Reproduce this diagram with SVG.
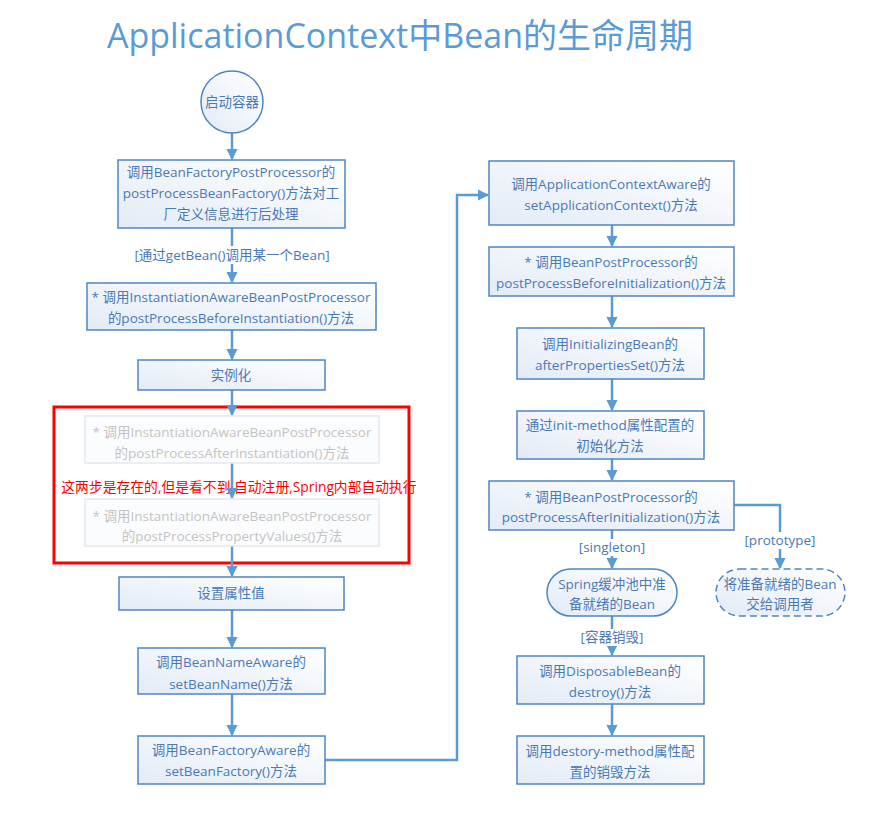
<svg xmlns="http://www.w3.org/2000/svg" width="891" height="817" viewBox="0 0 891 817">
<defs>
<linearGradient id="g" x1="1" y1="0" x2="0" y2="1">
<stop offset="0" stop-color="#ffffff"/>
<stop offset="1" stop-color="#e3ebf6"/>
</linearGradient>
<marker id="ar" viewBox="0 0 10 10" refX="9" refY="5" markerWidth="4.6" markerHeight="4.6" orient="auto" markerUnits="strokeWidth">
<path d="M0,0 L10,5 L0,10 z" fill="#5b9bd5"/>
</marker>
<style>
.t{font-family:"Open Sans","Noto Sans CJK SC",sans-serif;font-size:13.5px;fill:#4a7ab5;text-anchor:middle}
.f{fill:#c4c4c4}
.b{fill:url(#g);stroke:#4f86c0;stroke-width:1.5}
.fb{fill:#fbfcfd;stroke:#e4e8ee;stroke-width:1.5}
.c{fill:none;stroke:#5b9bd5;stroke-width:2.5;marker-end:url(#ar)}
.lab{font-family:"Open Sans","Noto Sans CJK SC",sans-serif;font-size:13.5px;fill:#4a7ab5;text-anchor:middle}
</style>
</defs>
<rect width="891" height="817" fill="#ffffff"/>
<text x="400" y="48" style="font-family:'Open Sans','Noto Sans CJK SC',sans-serif;font-size:34px;fill:#5b9bd5;text-anchor:middle">ApplicationContext中Bean的生命周期</text>

<rect x="54" y="407" width="355" height="156" fill="none" stroke="#ff0000" stroke-width="3"/>
<text x="239" y="492" style="font-family:'Open Sans','Noto Sans CJK SC',sans-serif;font-size:13.8px;fill:#ff0000;text-anchor:middle">这两步是存在的,但是看不到,自动注册,Spring内部自动执行</text>

<g id="connectors">
<path class="c" d="M232,133 V159"/>
<path class="c" d="M232,228 V282"/>
<path class="c" d="M232,330 V359"/>
<path class="c" d="M232,390 V415"/>
<path class="c" d="M232,463 V498"/>
<path class="c" d="M232,546 V576"/>
<path class="c" d="M232,610 V647"/>
<path class="c" d="M232,694 V735"/>
<path class="c" d="M325,760 H457 V195 H488"/>
<path class="c" d="M612,225 V246"/>
<path class="c" d="M612,296 V327"/>
<path class="c" d="M612,379 V410"/>
<path class="c" d="M612,459 V480"/>
<path class="c" d="M612,530 V568"/>
<path class="c" d="M734,505 H780 V568"/>
<path class="c" d="M612,616 V655"/>
<path class="c" d="M612,704 V735"/>
</g>

<g id="labels">
<rect x="128" y="246" width="208" height="18" fill="#ffffff"/>
<text class="lab" x="232" y="260">[通过getBean()调用某一个Bean]</text>
<rect x="578" y="539" width="68" height="17" fill="#ffffff"/>
<text class="lab" x="612" y="552">[singleton]</text>
<rect x="744" y="532" width="72" height="17" fill="#ffffff"/>
<text class="lab" x="780" y="545">[prototype]</text>
<rect x="574" y="629" width="76" height="17" fill="#ffffff"/>
<text class="lab" x="612" y="642">[容器销毁]</text>
</g>

<g id="start">
<circle cx="232" cy="102" r="31" fill="url(#g)" stroke="#4f86c0" stroke-width="1.5"/>
<text class="t" x="232" y="107">启动容器</text>
</g>
<g id="bfpp">
<rect class="b" x="118" y="160" width="227" height="68"/>
<text class="t" x="231" y="177">调用BeanFactoryPostProcessor的</text>
<text class="t" x="231" y="198">postProcessBeanFactory()方法对工</text>
<text class="t" x="231" y="219">厂定义信息进行后处理</text>
</g>
<g id="iabpp-before">
<rect class="b" x="87" y="283" width="289" height="47"/>
<text class="t" x="231" y="302">* 调用InstantiationAwareBeanPostProcessor</text>
<text class="t" x="231" y="323">的postProcessBeforeInstantiation()方法</text>
</g>
<g id="instantiate">
<rect class="b" x="138" y="360" width="187" height="30"/>
<text class="t" x="231" y="380">实例化</text>
</g>
<g id="iabpp-after">
<rect class="fb" x="85" y="416" width="294" height="47"/>
<text class="t f" x="232" y="437">* 调用InstantiationAwareBeanPostProcessor</text>
<text class="t f" x="232" y="458">的postProcessAfterInstantiation()方法</text>
</g>
<g id="iabpp-props">
<rect class="fb" x="85" y="499" width="294" height="47"/>
<text class="t f" x="232" y="521">* 调用InstantiationAwareBeanPostProcessor</text>
<text class="t f" x="232" y="541">的postProcessPropertyValues()方法</text>
</g>
<g id="setprops">
<rect class="b" x="119" y="577" width="225" height="33"/>
<text class="t" x="231" y="598">设置属性值</text>
</g>
<g id="beannameaware">
<rect class="b" x="138" y="648" width="187" height="46"/>
<text class="t" x="231" y="667">调用BeanNameAware的</text>
<text class="t" x="231" y="689">setBeanName()方法</text>
</g>
<g id="beanfactoryaware">
<rect class="b" x="138" y="736" width="187" height="48"/>
<text class="t" x="231" y="755">调用BeanFactoryAware的</text>
<text class="t" x="231" y="776">setBeanFactory()方法</text>
</g>
<g id="appctxaware">
<rect class="b" x="489" y="161" width="245" height="64"/>
<text class="t" x="611" y="189">调用ApplicationContextAware的</text>
<text class="t" x="611" y="210">setApplicationContext()方法</text>
</g>
<g id="bpp-before">
<rect class="b" x="489" y="247" width="245" height="49"/>
<text class="t" x="611" y="267">* 调用BeanPostProcessor的</text>
<text class="t" x="611" y="288">postProcessBeforeInitialization()方法</text>
</g>
<g id="initializingbean">
<rect class="b" x="517" y="328" width="187" height="51"/>
<text class="t" x="610" y="349">调用InitializingBean的</text>
<text class="t" x="610" y="370">afterPropertiesSet()方法</text>
</g>
<g id="initmethod">
<rect class="b" x="517" y="411" width="187" height="48"/>
<text class="t" x="610" y="430">通过init-method属性配置的</text>
<text class="t" x="610" y="451">初始化方法</text>
</g>
<g id="bpp-after">
<rect class="b" x="489" y="481" width="245" height="49"/>
<text class="t" x="611" y="502">* 调用BeanPostProcessor的</text>
<text class="t" x="611" y="522">postProcessAfterInitialization()方法</text>
</g>
<g id="singleton-pool">
<rect class="b" x="547" y="569" width="130" height="47" rx="23.5"/>
<text class="t" x="612" y="589">Spring缓冲池中准</text>
<text class="t" x="612" y="609">备就绪的Bean</text>
</g>
<g id="prototype-caller">
<rect x="716" y="569" width="129" height="47" rx="23.5" fill="url(#g)" stroke="#4f86c0" stroke-width="1.5" stroke-dasharray="7,4"/>
<text class="t" x="780" y="589">将准备就绪的Bean</text>
<text class="t" x="780" y="609">交给调用者</text>
</g>
<g id="disposablebean">
<rect class="b" x="517" y="656" width="187" height="48"/>
<text class="t" x="610" y="676">调用DisposableBean的</text>
<text class="t" x="610" y="697">destroy()方法</text>
</g>
<g id="destroymethod">
<rect class="b" x="517" y="736" width="187" height="48"/>
<text class="t" x="610" y="756">调用destory-method属性配</text>
<text class="t" x="610" y="777">置的销毁方法</text>
</g>
</svg>
